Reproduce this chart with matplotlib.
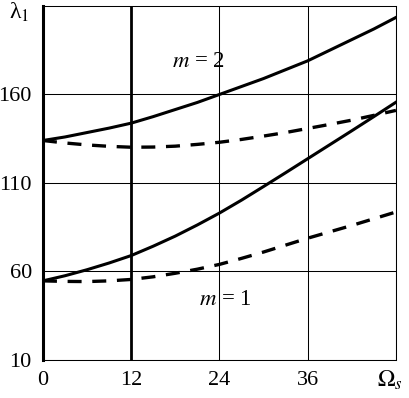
import matplotlib
matplotlib.use('Agg')
import matplotlib.pyplot as plt

plt.rcParams['font.family'] = ['Liberation Serif', 'DejaVu Serif']
plt.rcParams['mathtext.fontset'] = 'stix'

omega = [0, 3, 6, 9, 12, 15, 18, 21, 24, 27, 30, 33, 36, 39, 42, 45, 48]

# m = 2
m2_solid = [134, 136, 138.5, 141, 143.8, 147.5, 151.5, 155.5, 160,
            164.5, 169, 174, 179, 185, 191, 197, 203.5]
m2_dash = [134, 132.6, 131.5, 130.7, 130.2, 130.3, 130.8, 131.8, 133,
           134.6, 136.5, 138.5, 140.8, 143.1, 145.5, 148.2, 151]
# m = 1
m1_solid = [54.7, 57.6, 61, 64.8, 69, 74.3, 80, 86.3, 93,
            100.3, 108, 115.8, 123.7, 131.6, 139.5, 147.5, 155.6]
m1_dash = [54.7, 54.4, 54.3, 54.7, 55.5, 57, 59, 61.3, 64,
           67.4, 71, 74.9, 78.8, 82.4, 86, 89.8, 93.6]

xticks = [0, 12, 24, 36, 48]
xlabels = ['0', '12', '24', '36', '']
yticks = [10, 60, 110, 160]

fig = plt.figure(figsize=(4.09, 3.98), dpi=100)
ax = fig.add_axes([0.105, 0.0955, 0.863, 0.8895])

ax.plot(omega, m2_solid, color='black', lw=2.2)
ax.plot(omega, m1_solid, color='black', lw=2.2)
ax.plot(omega, m2_dash, color='black', lw=2.4, dashes=(4.2, 3.2))
ax.plot(omega, m1_dash, color='black', lw=2.4, dashes=(4.2, 3.2))

ax.set_xlim(0, 48)
ax.set_ylim(10, 210)
ax.set_xticks(xticks)
ax.set_xticklabels(xlabels)
ax.set_yticks(yticks)
ax.tick_params(length=0, labelsize=16, pad=8)
ax.grid(True, color='black', lw=0.75)
ax.get_xgridlines()[1].set_linewidth(2.0)

for s in ax.spines.values():
    s.set_linewidth(0.75)
ax.spines['left'].set_linewidth(2.2)

ax.text(0.44, 0.842, r'$m$ = 2', transform=ax.transAxes, fontsize=16.5,
        ha='center', va='center')
ax.text(0.516, 0.17, r'$m$ = 1', transform=ax.transAxes, fontsize=16.5,
        ha='center', va='center')
fig.text(19 / 409, 1 - 12 / 398, r'λ$_1$', fontsize=17,
         ha='center', va='center')
fig.text(390 / 409, 1 - 380 / 398, r'$\Omega_s$', fontsize=17,
         ha='center', va='center')

fig.savefig('out.png', dpi=100)
